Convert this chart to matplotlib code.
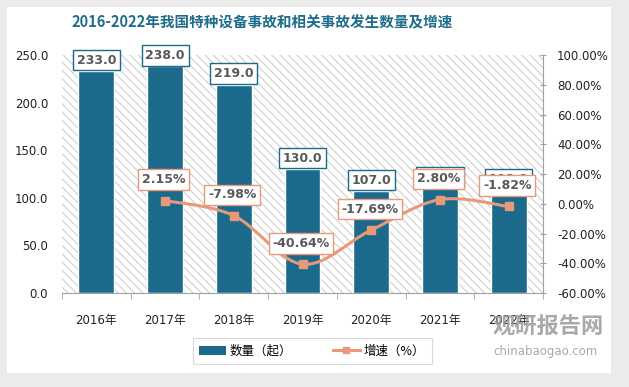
import matplotlib.pyplot as plt
from matplotlib.patches import Rectangle, Patch, PathPatch
from matplotlib.lines import Line2D
from matplotlib.path import Path

plt.rcParams['font.family'] = ['DejaVu Sans', 'Noto Sans CJK SC']
plt.rcParams['hatch.linewidth'] = 0.8

# data
years = ['2016年', '2017年', '2018年', '2019年', '2020年', '2021年', '2022年']
counts = [233.0, 238.0, 219.0, 130.0, 107.0, 110.0, 108.0]
growth = [None, 2.15, -7.98, -40.64, -17.69, 2.80, -1.82]
left_ticks = [0, 50, 100, 150, 200, 250]
right_ticks = [-60, -40, -20, 0, 20, 40, 60, 80, 100]

BAR_C = '#1b6a8c'
LINE_C = '#e8997a'
TXT_C = '#595959'

fig = plt.figure(figsize=(6.29, 3.87), dpi=100)
fig.patch.set_facecolor('#ebebeb')
# white card
fig.patches.append(Rectangle((7 / 629, 1 - 373 / 387), 604 / 629, 366 / 387,
                             transform=fig.transFigure, facecolor='white',
                             edgecolor='none', zorder=-10))

ax = fig.add_axes([62 / 629, 1 - 293 / 387, 481 / 629, 238 / 387])
ax.set_facecolor('none')
ax.add_patch(Rectangle((0, 0), 1, 1, transform=ax.transAxes, facecolor='white',
                       edgecolor='#cfcfcf', hatch='\\\\\\\\', lw=0, zorder=0))

x = list(range(len(years)))
ax.bar(x, counts, width=0.52, color=BAR_C, edgecolor='white', lw=1, zorder=2)
ax.set_xlim(-0.5, 6.5)
ax.set_ylim(0, 250)
ax.set_yticks(left_ticks)
ax.set_yticklabels([f'{t:.1f}' for t in left_ticks], fontsize=8.5, color='#222222')
ax.tick_params(axis='y', length=0, pad=10)
ax.set_xticks(x)
ax.set_xticklabels(years, fontsize=8.5, color='#222222')
ax.set_xticks([i + 0.5 for i in range(-1, 7)], minor=True)
ax.tick_params(axis='x', which='major', length=0, pad=15)
ax.tick_params(axis='x', which='minor', length=4, color='#a0a0a0')
for s in ['left', 'top', 'right']:
    ax.spines[s].set_visible(False)
ax.spines['bottom'].set_color('#a0a0a0')

for xi, v in zip(x, counts):
    ax.annotate(f'{v:.1f}', (xi, v), xytext=(0, 8), textcoords='offset points',
                ha='center', va='center', fontsize=9, fontweight='bold', color=TXT_C,
                bbox=dict(boxstyle='square,pad=0.3', fc='white', ec=BAR_C, lw=1),
                zorder=3)

ax2 = ax.twinx()
ax2.set_ylim(-60, 100)
ax2.set_yticks(right_ticks)
ax2.set_yticklabels([f'{t:.2f}%' for t in right_ticks], fontsize=8.5, color='#222222')
ax2.tick_params(axis='y', length=4, direction='inout', color='#a0a0a0', pad=8)
for s in ['left', 'top', 'bottom']:
    ax2.spines[s].set_visible(False)
ax2.spines['right'].set_color('#a0a0a0')

# smooth line (Catmull-Rom as bezier)
px = [xi for xi, g in zip(x, growth) if g is not None]
py = [g for g in growth if g is not None]
pts = list(zip(px, py))
verts = [pts[0]]
codes = [Path.MOVETO]
for i in range(len(pts) - 1):
    p0 = pts[i - 1] if i > 0 else pts[i]
    p1 = pts[i]
    p2 = pts[i + 1]
    p3 = pts[i + 2] if i + 2 < len(pts) else pts[i + 1]
    c1 = (p1[0] + (p2[0] - p0[0]) / 6, p1[1] + (p2[1] - p0[1]) / 6)
    c2 = (p2[0] - (p3[0] - p1[0]) / 6, p2[1] - (p3[1] - p1[1]) / 6)
    verts += [c1, c2, p2]
    codes += [Path.CURVE4] * 3
ax2.add_patch(PathPatch(Path(verts, codes), facecolor='none', edgecolor=LINE_C,
                        lw=2.2, zorder=3))
ax2.plot(px, py, ls='none', marker='s', ms=6, color=LINE_C, zorder=4)

for xi, g in zip(px, py):
    ax2.annotate(f'{g:.2f}%', (xi, g), xytext=(-1, 15), textcoords='offset points',
                 ha='center', va='center', fontsize=9, fontweight='bold', color=TXT_C,
                 bbox=dict(boxstyle='square,pad=0.3', fc='white', ec=LINE_C, lw=1),
                 zorder=5)

fig.text(262 / 629, 1 - 22 / 387, '2016-2022年我国特种设备事故和相关事故发生数量及增速',
         ha='center', va='center', fontsize=10.5, fontweight='bold', color='#1f6d8c',
         family=['Noto Sans CJK SC'])

handles = [Patch(facecolor=BAR_C, edgecolor='none'),
           Line2D([], [], color=LINE_C, lw=2.2, marker='s', ms=5)]
leg = fig.legend(handles, ['数量（起）', '增速（%）'], loc='center',
                 bbox_to_anchor=(312 / 629, 1 - 351 / 387), ncol=2,
                 frameon=True, fancybox=False, edgecolor='#d0d0d0',
                 handlelength=2.2, handletextpad=0.3, columnspacing=3.2,
                 borderpad=0.5, prop={'family': ['Noto Sans CJK SC'], 'size': 9})
leg.get_frame().set_linewidth(0.8)

# watermark
fig.text(548 / 629, 1 - 327 / 387, '观研报告网', ha='center', va='center', fontsize=16,
         fontweight='bold', color='#9a9a9a', alpha=0.85, family=['Noto Sans CJK SC'])
fig.text(546 / 629, 1 - 351 / 387, 'chinabaogao.com', ha='center', va='center',
         fontsize=8.5, color='#9a9a9a', alpha=0.85)

fig.savefig('out.png', dpi=100, facecolor=fig.get_facecolor())
